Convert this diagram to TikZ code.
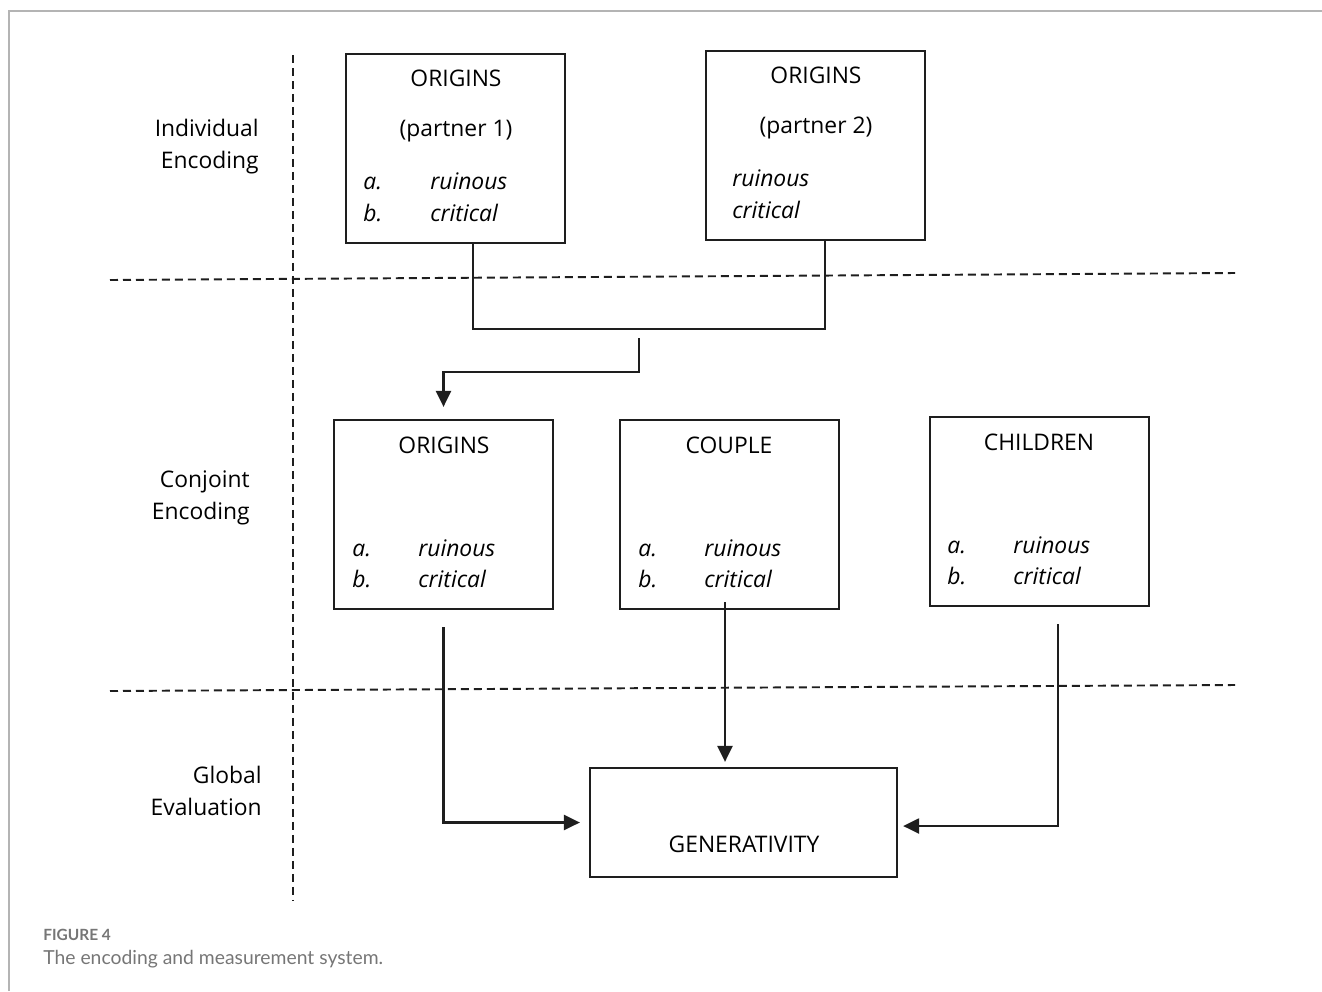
\documentclass[tikz,border=0pt]{standalone}
\usepackage{fontspec}
\setmainfont{Open Sans}
\newfontfamily\capfont{Lato}
\definecolor{FrameGray}{HTML}{B4B4B4}
\definecolor{CapGray}{HTML}{767676}
\definecolor{InkBlack}{HTML}{1E1E1E}
\usetikzlibrary{arrows.meta, calc}
\tikzset{
	box/.style={draw=InkBlack, line width=1.3pt, minimum width=4.38cm, minimum height=3.78cm, inner sep=0pt},
	txt/.style={font=\fontsize{13}{18}\selectfont, inner sep=0pt, anchor=base},
	item/.style={txt, anchor=base west, font=\fontsize{13}{18}\selectfont\itshape},
	lane/.style={font=\fontsize{13}{18.2}\selectfont, align=right, anchor=east, inner sep=0pt},
	divider/.style={InkBlack, line width=1.1pt, dash pattern=on 0.16cm off 0.1cm},
	link/.style={InkBlack, line width=1.3pt},
	arrow/.style={link, -{Triangle[length=0.32cm, width=0.3cm]}}
}

\begin{document}
\begin{tikzpicture}[x=0.02cm, y=-0.02cm]
		\useasboundingbox (0,0) rectangle (1322,991);
		
		% frame
		\draw[FrameGray, line width=1pt] (9,991) -- (9,11) -- (1322,11);
		
		% lanes
		\draw[divider] (293,55) -- (293,900);
		\draw[divider] (110,280) -- (1235,273);
		\draw[divider] (110,691) -- (1235,685);
		
		\node[lane] (indiv) at (259,147) {Individual\\Encoding};
		\node[lane] (conj) at (250,498) {Conjoint\\Encoding};
		\node[lane] (glob) at (262,791) {Global\\Evaluation};
		
		% individual encoding
		\node[box] (p1) at (455.5,148.5) {};
		\node[txt] (p1title) at (456,86) {ORIGINS};
		\node[txt] (p1who) at (456,136) {(partner 1)};
		\node[item] (p1a) at (363,189) {a.};
		\node[item] (p1b) at (363,221) {b.};
		\node[item] (p1r) at (430,189) {ruinous};
		\node[item] (p1c) at (430,221) {critical};
		
		\node[box] (p2) at (815.5,145.5) {};
		\node[txt] (p2title) at (816,83) {ORIGINS};
		\node[txt] (p2who) at (816,133) {(partner 2)};
		\node[item] (p2r) at (732,186) {ruinous};
		\node[item] (p2c) at (732,218) {critical};
		
		% conjoint encoding
		\node[box] (oc) at (443.5,514.5) {};
		\node[txt] (octitle) at (444,453) {ORIGINS};
		\node[item] (oca) at (352,556) {a.};
		\node[item] (ocb) at (352,587) {b.};
		\node[item] (ocr) at (418,556) {ruinous};
		\node[item] (occ) at (418,587) {critical};
		
		\node[box] (cc) at (729.5,514.5) {};
		\node[txt] (cctitle) at (729,453) {COUPLE};
		\node[item] (cca) at (638,556) {a.};
		\node[item] (ccb) at (638,587) {b.};
		\node[item] (ccr) at (704,556) {ruinous};
		\node[item] (ccc) at (704,587) {critical};
		
		\node[box] (ch) at (1039.5,511.5) {};
		\node[txt] (chtitle) at (1039,450) {CHILDREN};
		\node[item] (cha) at (947,553) {a.};
		\node[item] (chb) at (947,584) {b.};
		\node[item] (chr) at (1013,553) {ruinous};
		\node[item] (chc) at (1013,584) {critical};
		
		% global evaluation
		\node[box, minimum width=6.14cm, minimum height=2.18cm] (gen) at (743.5,822.5) {};
		\node[txt] (gentitle) at (744,852) {GENERATIVITY};
		
		% connectors
		\draw[link] ($(p1.south)+(17.5,0)$) -- ++(0,85) -| ($(p2.south)+(9.5,0)$);
		\coordinate (merge) at (639,338);
		\draw[arrow, shorten >=0.24cm] (merge) -- ++(0,34) -| (oc.north);
		
		\coordinate (couplepin) at ($(cc.south)+(-4.5,-8)$);
		\draw[arrow, shorten <=0.34cm, shorten >=0.18cm] (oc.south) |- (gen.west);
		\draw[arrow, shorten >=0.1cm] (couplepin) -- (couplepin |- gen.north);
		\draw[arrow, shorten <=0.34cm, shorten >=0.1cm] ($(ch.south)+(18.5,0)$) |- ($(gen.east)+(0,3.5)$);
		
		% caption
		\node[anchor=base west, inner sep=0pt, text=CapGray, font=\capfont\bfseries\fontsize{8.8}{10}\selectfont] (fig) at (43,940) {FIGURE 4};
		\node[anchor=base west, inner sep=0pt, text=CapGray, font=\capfont\fontsize{11}{13}\selectfont] (cap) at (43,964) {The encoding and measurement system.};
	\end{tikzpicture}
\end{document}
